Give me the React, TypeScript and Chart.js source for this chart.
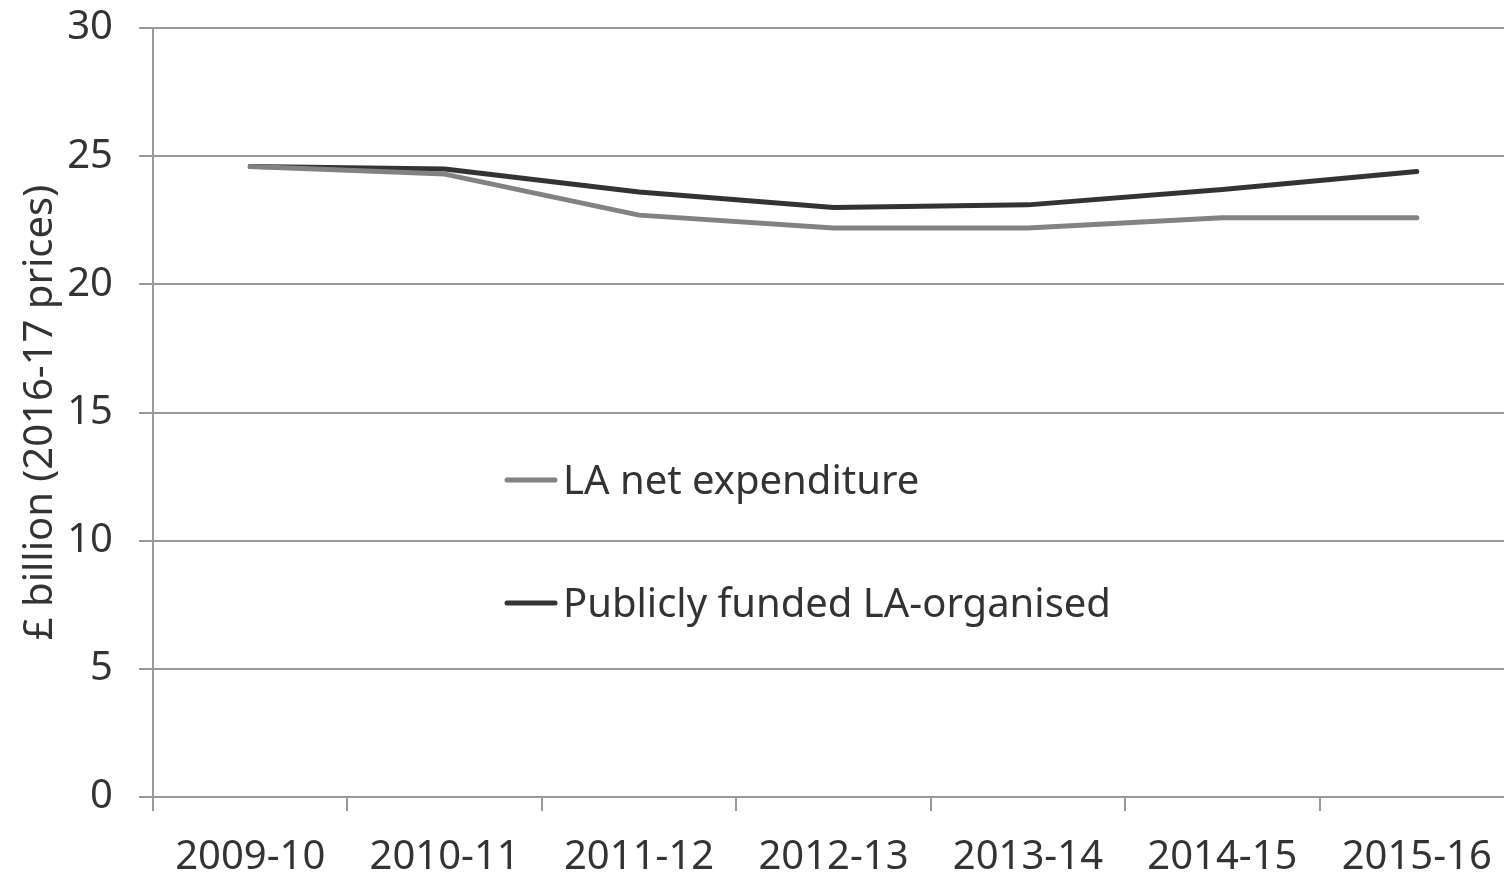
import React, { useEffect, useRef } from "react";
import { Chart, registerables } from "chart.js";

Chart.register(...registerables);

const categories = ["2009-10", "2010-11", "2011-12", "2012-13", "2013-14", "2014-15", "2015-16"];
const laNetExpenditure = [24.6, 24.3, 22.7, 22.2, 22.2, 22.6, 22.6];
const publiclyFunded = [24.6, 24.5, 23.6, 23.0, 23.1, 23.7, 24.4];
const seriesLabels = ["LA net expenditure", "Publicly funded LA-organised"];
const yAxisTitle = "£ billion (2016-17 prices)";

const FONT = "'Noto Sans', 'Open Sans', sans-serif";
const TEXT = "#333333";
const GRID = "#999999";

const legendPlugin = {
  id: "customLegend",
  afterDraw(chart: any) {
    const ctx = chart.ctx;
    const items = chart.data.datasets;
    const rows = [480, 603];
    ctx.save();
    items.forEach((ds: any, i: number) => {
      const y = rows[i];
      ctx.strokeStyle = ds.borderColor;
      ctx.lineWidth = 5;
      ctx.lineCap = "round";
      ctx.beginPath();
      ctx.moveTo(507, y);
      ctx.lineTo(555, y);
      ctx.stroke();
      ctx.fillStyle = TEXT;
      ctx.font = `40px ${FONT}`;
      ctx.textBaseline = "middle";
      ctx.textAlign = "left";
      ctx.fillText(ds.label, 563, y + 3);
    });
    ctx.restore();
  },
};

export default function App() {
  const ref = useRef<HTMLCanvasElement>(null);
  useEffect(() => {
    if (!ref.current) return;
    const chart = new Chart(ref.current, {
      type: "line",
      data: {
        labels: categories,
        datasets: [
          {
            label: seriesLabels[0],
            data: laNetExpenditure,
            borderColor: "#828282",
            backgroundColor: "#828282",
            borderWidth: 5,
            pointRadius: 0,
            borderCapStyle: "round",
            borderJoinStyle: "round",
            tension: 0,
          },
          {
            label: seriesLabels[1],
            data: publiclyFunded,
            borderColor: "#333333",
            backgroundColor: "#333333",
            borderWidth: 5,
            pointRadius: 0,
            borderCapStyle: "round",
            borderJoinStyle: "round",
            tension: 0,
          },
        ],
      },
      options: {
        animation: false,
        responsive: false,
        maintainAspectRatio: false,
        layout: { padding: { top: 28, right: 2, left: 0, bottom: 0 } },
        plugins: {
          legend: { display: false },
          tooltip: { enabled: false },
        },
        scales: {
          x: {
            offset: true,
            grid: {
              offset: true,
              drawOnChartArea: false,
              drawTicks: true,
              tickLength: 14,
              color: GRID,
              lineWidth: 2,
            },
            border: { display: true, color: GRID, width: 2 },
            ticks: {
              color: TEXT,
              font: { family: FONT, size: 40 },
              padding: 23,
              maxRotation: 0,
              autoSkip: false,
            },
            afterFit(scale: any) {
              scale.height = 78;
              scale.paddingLeft = 0;
              scale.paddingRight = 0;
            },
          },
          y: {
            min: 0,
            max: 30,
            ticks: {
              stepSize: 5,
              color: TEXT,
              font: { family: FONT, size: 40 },
              padding: 26,
            },
            grid: {
              color: GRID,
              lineWidth: 2,
              drawTicks: true,
              tickLength: 14,
            },
            border: { display: true, color: GRID, width: 2 },
            title: {
              display: true,
              text: yAxisTitle,
              color: TEXT,
              font: { family: FONT, size: 40 },
              padding: { top: 17, bottom: 0 },
            },
            afterFit(scale: any) {
              scale.width = 153;
              scale.paddingTop = 0;
              scale.paddingBottom = 0;
            },
          },
        },
      },
      plugins: [legendPlugin],
    });
    return () => chart.destroy();
  }, []);
  return (
    <div style={{ position: "absolute", left: 0, top: 0, width: 1504, height: 875, overflow: "hidden", background: "#fff" }}>
      <canvas ref={ref} width={1516} height={875} style={{ display: "block" }} />
    </div>
  );
}
